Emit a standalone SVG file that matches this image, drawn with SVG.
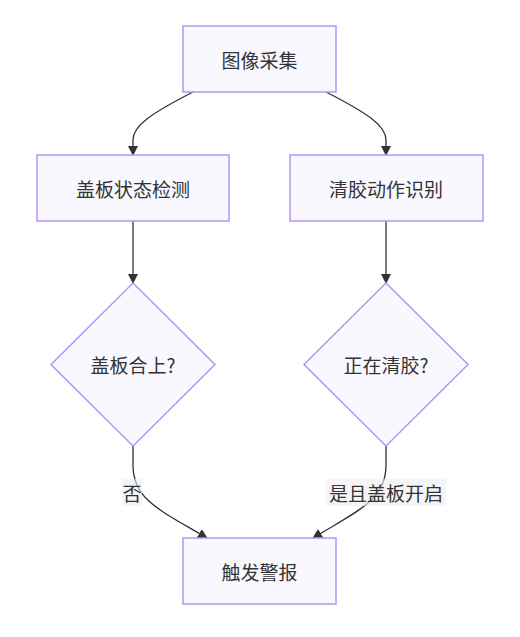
<svg xmlns="http://www.w3.org/2000/svg" width="520" height="637" viewBox="0 0 520 637">
<defs>
<style>
.node{fill:#f9f8ff;stroke:#b694f4;stroke-width:1.5}
.t{font-family:"Noto Sans CJK SC","Liberation Sans",sans-serif;font-size:19px;fill:#333;text-anchor:middle;dominant-baseline:central}
.e{fill:none;stroke:#333;stroke-width:1.3}
.lb{fill:#eeeeee;opacity:0.6}
</style>
<marker id="arr" viewBox="0 0 10 10" refX="9" refY="5" markerWidth="10" markerHeight="10" orient="auto" markerUnits="userSpaceOnUse">
<path d="M0,0 L10,5 L0,10 z" fill="#333"/>
</marker>
</defs>
<rect width="520" height="637" fill="#ffffff"/>
<g id="edges">
<path class="e" d="M193,92 C150,114 133,126 133,140 L133,155" marker-end="url(#arr)"/>
<path class="e" d="M326,92 C369,114 386,126 386,140 L386,155" marker-end="url(#arr)"/>
<path class="e" d="M133,221 L133,283" marker-end="url(#arr)"/>
<path class="e" d="M386,221 L386,283" marker-end="url(#arr)"/>
<path class="e" d="M133,446 L133,465 C133,500 160,510 207,538" marker-end="url(#arr)"/>
<path class="e" d="M386,446 L386,465 C386,500 359,510 313,538" marker-end="url(#arr)"/>
</g>
<g id="label-no">
<rect class="lb" x="122" y="479" width="20" height="27"/>
<text class="t" x="132" y="492">否</text>
</g>
<g id="label-yes">
<rect class="lb" x="326" y="479" width="120" height="27"/>
<text class="t" x="386" y="492">是且盖板开启</text>
</g>
<g id="n1">
<rect class="node" x="183" y="26" width="153" height="66"/>
<text class="t" x="259.5" y="59">图像采集</text>
</g>
<g id="n2">
<rect class="node" x="37" y="155" width="192" height="66"/>
<text class="t" x="133" y="188">盖板状态检测</text>
</g>
<g id="n3">
<rect class="node" x="290" y="155" width="193" height="66"/>
<text class="t" x="386" y="188">清胶动作识别</text>
</g>
<g id="n4">
<polygon class="node" points="133,283 215,364.5 133,446 51,364.5"/>
<text class="t" x="133" y="364.5">盖板合上?</text>
</g>
<g id="n5">
<polygon class="node" points="386,283 468,364.5 386,446 304,364.5"/>
<text class="t" x="386" y="364.5">正在清胶?</text>
</g>
<g id="n6">
<rect class="node" x="183" y="538" width="153" height="66"/>
<text class="t" x="259.5" y="571">触发警报</text>
</g>
</svg>
